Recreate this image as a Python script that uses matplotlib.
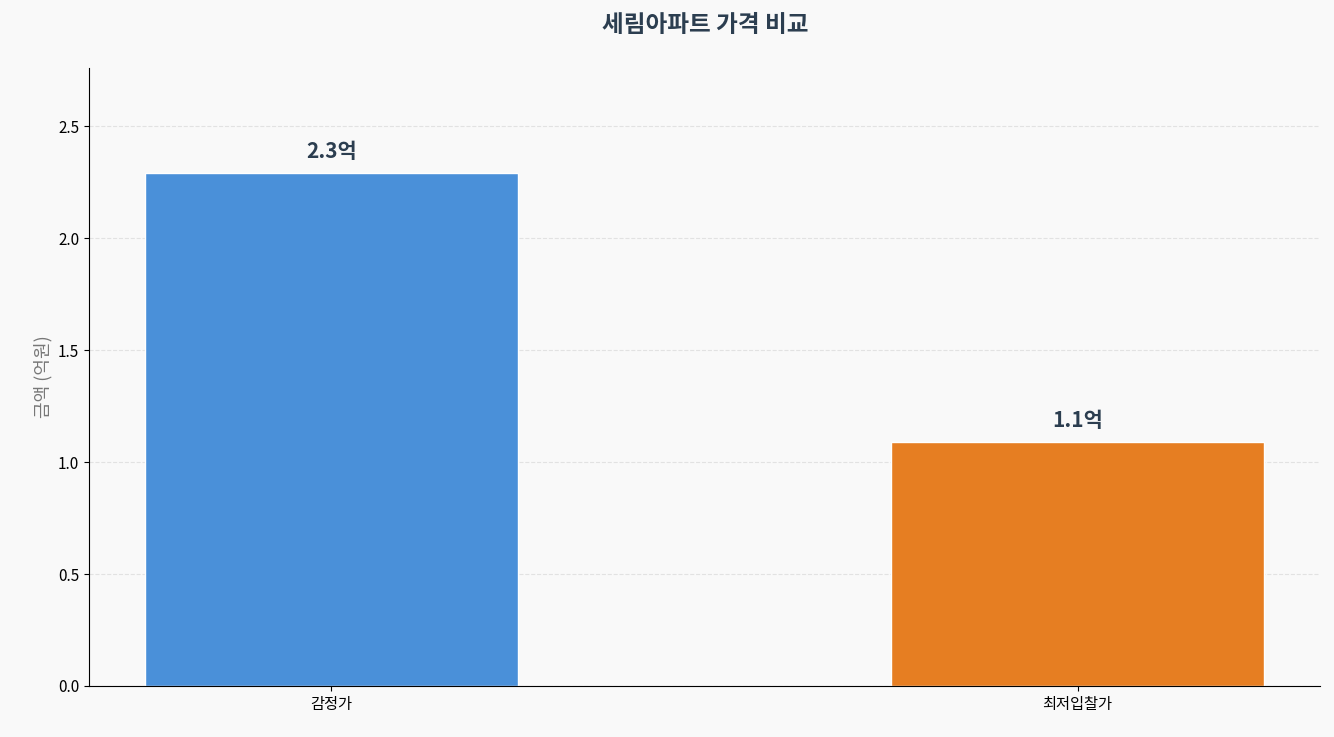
import matplotlib
matplotlib.use('Agg')
import matplotlib.pyplot as plt

plt.rcParams['font.family'] = ['Noto Sans CJK KR', 'DejaVu Sans']

categories = ['감정가', '최저입찰가']
values = [2.29, 1.09]
labels = ['2.3억', '1.1억']
colors = ['#4A90D9', '#E67E22']

fig = plt.figure(figsize=(13.34, 7.37), dpi=100, facecolor='#F9F9F9')
ax = fig.add_axes([89/1334, 1-686/737, (1320-89)/1334, (686-68)/737])
ax.set_facecolor('#F9F9F9')

bars = ax.bar(range(len(categories)), values, width=0.5, color=colors, edgecolor='white', linewidth=1)
for b, lab in zip(bars, labels):
    ax.text(b.get_x() + b.get_width()/2, b.get_height() + 0.05, lab,
            ha='center', va='bottom', fontsize=15, fontweight='bold', color='#2C3E50')

ax.set_xticks(range(len(categories)))
ax.set_xticklabels(categories, fontsize=12)
ax.set_xlim(-0.325, 1.325)
ax.set_ylim(0, 2.76)
ax.set_yticks([0, 0.5, 1.0, 1.5, 2.0, 2.5])
ax.tick_params(labelsize=11)
ax.set_ylabel('금액 (억원)', fontsize=13, color='#777777')
ax.yaxis.grid(True, linestyle='--', color='#DDDDDD', alpha=0.8)
ax.set_axisbelow(True)
for s in ['top', 'right']:
    ax.spines[s].set_visible(False)

fig.text(705/1334, 1-25/737, '세림아파트 가격 비교', ha='center', va='center',
         fontsize=17, fontweight='bold', color='#2C3E50')

plt.savefig('out.png', dpi=100, facecolor=fig.get_facecolor())
